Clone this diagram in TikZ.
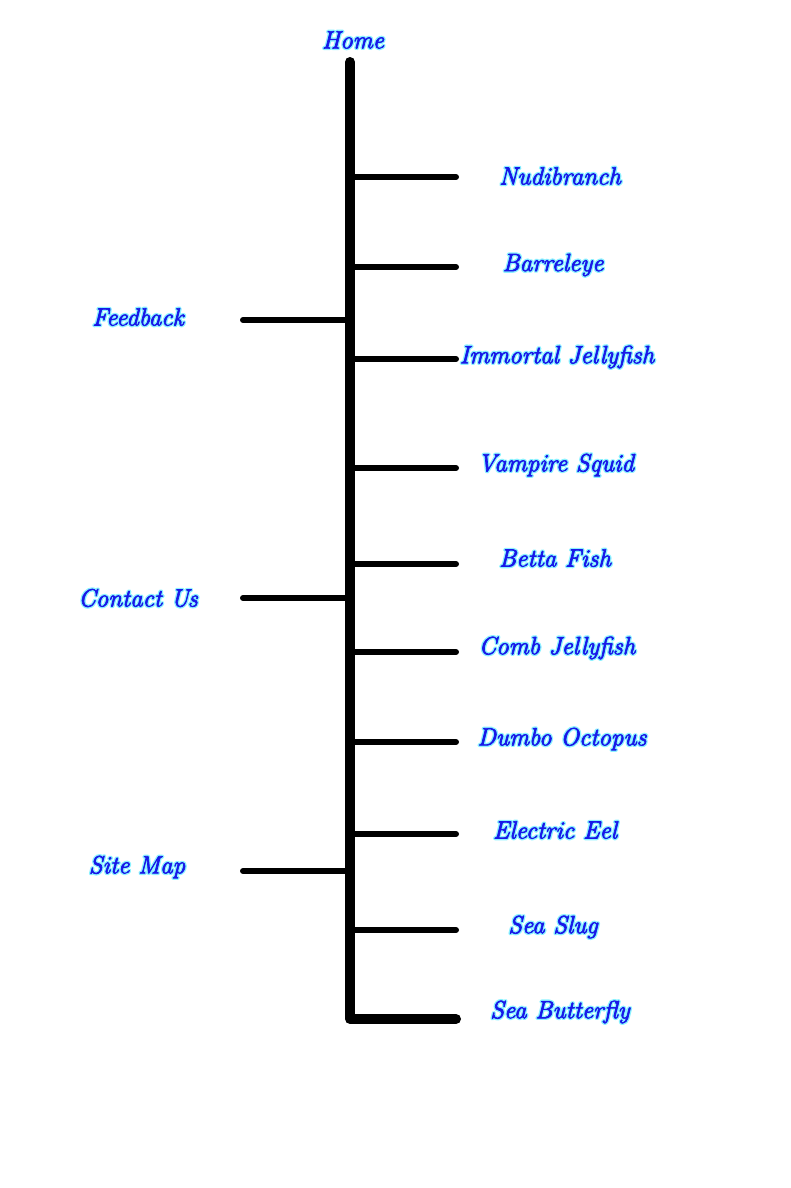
\documentclass[tikz,border=0pt]{standalone}
\definecolor{txtblue}{HTML}{1818E8}
\newcommand{\glowtxt}[1]{\makebox[0pt][l]{\special{pdf:literal 1 Tr 3.4 w 1 j 1 J 0.55 0.95 1 RG}#1\special{pdf:literal 0 Tr}}\special{pdf:literal 2 Tr 0.7 w 1 j 0.094 0.094 0.91 RG}#1\special{pdf:literal 0 Tr}}
\tikzset{
  lbl/.style={font=\fontsize{25}{29}\selectfont\itshape, text=txtblue, inner sep=0pt},
  trunkline/.style={line width=10pt, line cap=round, line join=round},
  branchline/.style={line width=6pt, line cap=round},
}
\begin{document}
\begin{tikzpicture}[x=1pt,y=-1pt]
\useasboundingbox (0,0) rectangle (790,1188);
% trunk
\coordinate (top) at (350,62);
\coordinate (bot) at (350,1019);
\coordinate (botend) at (456,1019);
\draw[trunkline] (top) -- (bot) -- (botend);
% right branches
\foreach \n/\y in {b1/177,b2/267,b3/359,b4/468,b5/564,b6/652,b7/742,b8/834,b9/930}{
  \coordinate (\n s) at (352,\y);
  \coordinate (\n e) at (456,\y);
  \draw[branchline] (\n s) -- (\n e);
}
% left branches
\foreach \n/\y in {l1/320,l2/598,l3/871}{
  \coordinate (\n s) at (348,\y);
  \coordinate (\n e) at (243,\y);
  \draw[branchline] (\n s) -- (\n e);
}
% labels
\node[lbl] (home) at (353,40) {\glowtxt{Home}};
\node[lbl] (nudi) at (560,176) {\glowtxt{Nudibranch}};
\node[lbl] (barr) at (553,265) {\glowtxt{Barreleye}};
\node[lbl] (immo) at (557,357) {\glowtxt{Immortal Jellyfish}};
\node[lbl] (vamp) at (556,465) {\glowtxt{Vampire Squid}};
\node[lbl] (bett) at (555,558) {\glowtxt{Betta Fish}};
\node[lbl] (comb) at (557,648) {\glowtxt{Comb Jellyfish}};
\node[lbl] (dumb) at (562,739) {\glowtxt{Dumbo Octopus}};
\node[lbl] (elec) at (555,830) {\glowtxt{Electric Eel}};
\node[lbl] (slug) at (553,927) {\glowtxt{Sea Slug}};
\node[lbl] (butt) at (560,1012) {\glowtxt{Sea Butterfly}};
\node[lbl] (feed) at (138,317) {\glowtxt{Feedback}};
\node[lbl] (cont) at (138,598) {\glowtxt{Contact Us}};
\node[lbl] (site) at (137,867) {\glowtxt{Site Map}};
\end{tikzpicture}
\end{document}
